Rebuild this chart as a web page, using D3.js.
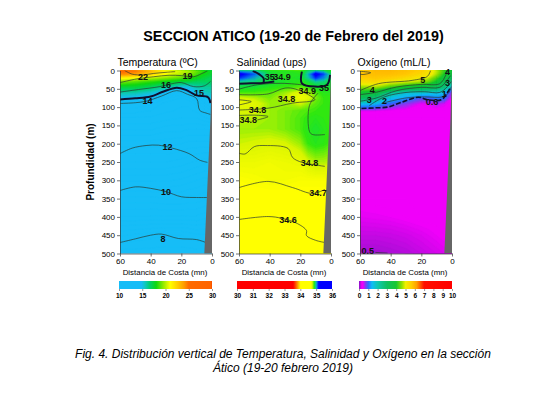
<!DOCTYPE html>
<html lang="es">
<head>
<meta charset="utf-8">
<title>Seccion Atico</title>
<script src="https://cdn.jsdelivr.net/npm/d3@7/dist/d3.min.js"></script>
<style>
body{margin:0;background:#fff;font-family:"Liberation Sans",Arial,sans-serif;}
svg{display:block;}
</style>
</head>
<body>
<div id="chart"></div>
<script>
// grid: columns are distance (mn), rows are depth (m)
var distances = [60,50,40,30,20,15,10,5,0]
var depths = [0,10,20,30,45,60,75,90,110,130,160,200,250,300,350,400,450,500]

var tempGrid = [
[25.5,25,23.5,21.5,20.5,20,19.2,18.4,17.8],
[24.5,24,22.5,21,20,19.6,18.8,18,17.5],
[21.5,21,20.2,19.6,19,18.6,18,17.5,17],
[19.5,19,18.5,18,17.5,17.4,17,17,17],
[17.5,17.5,17,16.2,15.2,15.2,16,16.2,16.2],
[16,16,15.5,14.6,14,14.2,15,15.6,15.8],
[15,14.8,14.5,13.8,13.5,13.7,14.3,15,15.2],
[14,14,13.8,13.4,13.3,13.3,13.6,14.2,14.8],
[13.6,13.6,13.5,13.3,13.2,13.2,13.3,13.6,14],
[13.2,13.2,13.2,13.1,13,13,13,13.2,13.4],
[12.8,12.8,12.8,12.6,12.6,12.5,12.5,12.5,12.5],
[12.1,12.1,12.1,12.1,12,11.9,11.9,11.9,11.9],
[11.5,11.5,11.5,11.5,11.4,11.3,11.2,11.1,11.1],
[10.8,10.8,10.8,10.8,10.7,10.6,10.5,10.4,10.4],
[9.9,9.9,9.9,10,10,9.9,9.9,9.8,9.8],
[9.2,9.2,9.2,9.2,9.2,9.2,9.2,9.1,9.1],
[8.3,8.2,8.1,8,8,8.1,8.2,8.2,8.2],
[7.6,7.6,7.6,7.6,7.6,7.6,7.6,7.6,7.6]
]

var salGrid = [
[34.98,34.98,34.9,34.88,34.86,34.95,34.98,34.95,34.9],
[35.18,35.08,34.92,34.88,34.88,35,35.18,35.1,34.95],
[35.12,35.02,34.92,34.88,34.9,34.98,35.12,35.05,34.95],
[34.98,34.96,34.92,34.9,34.88,34.92,34.98,34.96,34.92],
[34.92,34.91,34.88,34.86,34.84,34.86,34.9,34.92,34.9],
[34.85,34.85,34.84,34.8,34.74,34.78,34.84,34.88,34.88],
[34.76,34.78,34.82,34.77,34.7,34.74,34.82,34.86,34.86],
[34.7,34.74,34.8,34.8,34.76,34.8,34.84,34.86,34.86],
[34.76,34.76,34.8,34.82,34.84,34.85,34.86,34.86,34.86],
[34.78,34.78,34.8,34.82,34.85,34.87,34.88,34.87,34.86],
[34.8,34.8,34.8,34.82,34.85,34.88,34.9,34.88,34.86],
[34.77,34.76,34.75,34.76,34.8,34.86,34.88,34.87,34.85],
[34.71,34.71,34.7,34.71,34.72,34.76,34.79,34.79,34.78],
[34.67,34.68,34.69,34.69,34.68,34.68,34.68,34.68,34.68],
[34.65,34.65,34.65,34.65,34.65,34.65,34.65,34.65,34.65],
[34.6,34.6,34.61,34.6,34.6,34.62,34.62,34.62,34.62],
[34.58,34.58,34.58,34.58,34.58,34.58,34.58,34.58,34.58],
[34.56,34.56,34.56,34.56,34.56,34.56,34.56,34.56,34.56]
]

var oxyGrid = [
[5.6,5.9,5.9,5.8,5.6,5.3,4.8,4.2,3.8],
[5.8,5.8,5.8,5.7,5.4,5.2,4.7,4,3.5],
[5.6,5.7,5.6,5.4,5.1,4.8,4.3,3.7,3],
[5.3,5.4,5.1,4.9,4.7,4.4,3.9,3.2,2.5],
[4.6,4.7,4.2,3.8,3.5,3.4,3.1,2.6,1.5],
[3.9,3.6,2.3,1.7,1.7,1.6,1.6,1.4,0.6],
[3,2.6,1.5,1.2,0.85,0.9,1.1,1,0.4],
[1.5,1.4,0.95,0.7,0.45,0.5,0.6,0.5,0.36],
[0.45,0.45,0.4,0.38,0.36,0.36,0.36,0.36,0.35],
[0.36,0.36,0.36,0.36,0.36,0.36,0.36,0.36,0.35],
[0.35,0.35,0.35,0.35,0.35,0.35,0.35,0.35,0.35],
[0.35,0.35,0.35,0.35,0.35,0.35,0.35,0.35,0.35],
[0.35,0.35,0.35,0.35,0.35,0.35,0.35,0.35,0.35],
[0.35,0.35,0.35,0.35,0.35,0.35,0.35,0.35,0.35],
[0.34,0.34,0.34,0.34,0.34,0.34,0.34,0.34,0.34],
[0.28,0.29,0.3,0.32,0.34,0.34,0.34,0.34,0.34],
[0.2,0.2,0.21,0.23,0.26,0.28,0.3,0.32,0.32],
[0.12,0.12,0.14,0.16,0.2,0.22,0.24,0.26,0.26]
]

// contour lines as [distance, depth]
var temp22 = [[57,0],[52,10],[45,12],[38,8],[30,5],[24,3]]
var temp19 = [[60,33],[49,23],[38,17],[28,13],[20,14],[12,17],[7,9],[3,1]]
var temp16 = [[60,59],[48,52],[34,44],[26,36],[20,33],[12,44],[5,42],[1,30]]
var temp15 = [[60,79],[50,76],[40,71],[32,58],[23,47],[17,53],[10,68],[2.6,73],[1,89]]
var temp14 = [[60,90],[50,88],[43,84],[33,70],[23,55],[16,65],[10,77],[8,109],[4,116],[1,120]]
var temp12 = [[60,227],[52,212],[43,205],[35,204],[26,212],[15,227],[8,245],[3,251]]
var temp10 = [[60,328],[50,318],[40,322],[30,331],[20,345],[10,347],[3,347]]
var temp8 = [[60,470],[50,460],[40,450],[33,447],[22,459],[10,462],[4,470]]

var sal35a = [[60,36],[52,35],[44,34],[37,30]]
var sal35b = [[51,1],[47,10],[44,21],[44,34]]
var sal35c = [[19,3],[19,35],[10.5,44],[2.6,39],[0.6,12]]
var sal349 = [[60,51],[48,39],[32,35],[19,39]]
var sal348a = [[60,66],[41,64],[30,48],[23,51],[10.5,80],[25,89],[41,103],[60,108]]
var sal348b = [[60,80],[52,85],[60,94]]
var sal348c = [[60,123],[50,122],[41,126],[48,135]]
var sal348d = [[8.5,62],[14,95],[14,167],[12,175],[4,175]]
var sal348e = [[60,226],[56,228],[50,208],[43,205],[28,213],[25,238],[19,251],[10,258],[4,262]]
var sal347 = [[60,320],[41,303],[25,320],[12,336],[4,325]]
var sal346 = [[60,407],[41,399],[32,404],[22,418],[16,437],[16,451],[10,464],[4,470]]

var oxy5 = [[60,55],[48,36],[26,27],[16,16],[14,0]]
var oxy55 = [[60,2],[53,6],[58,11],[60,10]]
var oxy4 = [[60,66],[50,60],[36,45],[20,38],[8,36],[4,12],[3,0]]
var oxy3 = [[60,84],[50,76],[36,55],[20,46],[8,46],[3,26],[1,14]]
var oxy2 = [[54,96],[44,72],[30,60],[18,58],[8,60],[3,44],[0.5,30]]
var oxy1 = [[46,90],[30,75],[18,72],[6,72],[2,60],[0.5,44]]
var oxy06 = [[59,104],[50,102],[42,100],[33,87],[22,73],[16,80],[7,80],[3,60],[1,46]]
var oxy05 = [[50,497],[42,499]]

var tempLabels = [["22",45,16],["19",16,15],["16",30,38],["15",8.5,62],["14",42,84],["12",29,208],["10",30,331],["8",32,459]]
var salLabels = [["35",40,17],["34.9",32,18],["34.8",29,77],["34.8",48,107],["34.8",54,134],["34.9",15.5,55],["35",4.5,48],["34.8",14,251],["34.7",8.5,333],["34.6",28,407]]
var oxyLabels = [["5",19,25],["4",52,52],["3",54,79],["2",44,82],["0.6",13,85],["4",3,5],["3",3,34],["1",5,63],["0.5",55,492]]

var landDist = [0,1,5,0]
var landDepth = [0,130,500,500]

var tempBar = [10,15,20,25,30]
var salBar = [30,31,32,33,34,35,36]
var oxyBar = [0,1,2,3,4,5,6,7,8,9,10]

var tempColor = d3.scaleLinear()
    .domain([10,14.8,15.6,16.6,18,19.5,21,22.5,24,25,29.8,30])
    .range(["#16bdf7","#16bdf7","#10c8c0","#00cf70","#10d810","#90ea00","#ffff00","#ffd000","#ff9c00","#ff6a00","#ff6400","#f04000"])
var salColor = d3.scaleLinear()
    .domain([30,33.55,33.8,34,34.66,34.76,34.86,34.92,34.98,35.06,35.15,36])
    .range(["#ff0000","#ff0000","#ff8800","#ffff00","#ffff00","#d8f500","#30e810","#10e040","#10c8a0","#0878f0","#0000ff","#0000ff"])
var oxyColor = d3.scaleLinear()
    .domain([0,0.1,0.3,0.42,0.7,1,1.4,2,3,4,4.6,5,5.6,6.2,7,10])
    .range(["#9010d0","#a010d0","#f000fa","#f000fa","#8040f0","#2a70ff","#10bdf5","#10c8b0","#10c060","#18c830","#90e000","#f0f000","#ffd000","#ffa000","#ff1000","#ff0000"])

var w = 554, h = 393
var top0 = 70.5, bot0 = 253.5
var panelW = 92

var panels = [
  {title:"Temperatura (ºC)", x0:120, grid:tempGrid, color:tempColor, step:0.25, lo:7.5, hi:26,
   lines:[temp22,temp19,temp16,temp15,temp14,temp12,temp10,temp8], heavy:[temp15], labels:tempLabels,
   bar:tempBar, barX:[119,212]},
  {title:"Salinidad (ups)", x0:239, grid:salGrid, color:salColor, step:0.01, lo:34.5, hi:35.2,
   lines:[sal35a,sal35b,sal35c,sal349,sal348a,sal348b,sal348c,sal348d,sal348e,sal347,sal346], heavy:[sal35a,sal35b,sal35c], labels:salLabels,
   bar:salBar, barX:[237,332]},
  {title:"Oxígeno (mL/L)", x0:360, grid:oxyGrid, color:oxyColor, step:0.02, lo:0.1, hi:6,
   lines:[oxy55,oxy5,oxy4,oxy3,oxy2,oxy1,oxy05], heavy:[oxy06], dashed:[oxy06], labels:oxyLabels,
   bar:oxyBar, barX:[359,452]}
]

var svg = d3.select("#chart").append("svg").attr("width",w).attr("height",h)
var defs = svg.append("defs")

svg.append("text").text("SECCION ATICO (19-20 de Febrero del 2019)")
    .attr("x",293.5).attr("y",41).attr("text-anchor","middle")
    .attr("font-size","14.3px").attr("font-weight","bold")

svg.append("text").text("Profundidad (m)")
    .attr("transform","translate(94,162) rotate(-90)").attr("text-anchor","middle")
    .attr("font-size","10px").attr("font-weight","bold")

panels.forEach(function(p,k){
  var x = d3.scaleLinear().domain([60,0]).range([p.x0,p.x0+panelW])
  var y = d3.scaleLinear().domain([0,500]).range([top0,bot0])
  // grid index -> data units, the grids are not evenly spaced
  var ix = d3.scaleLinear().domain(d3.range(distances.length)).range(distances).clamp(true)
  var iy = d3.scaleLinear().domain(d3.range(depths.length)).range(depths).clamp(true)
  var path = d3.geoPath(d3.geoTransform({point:function(a,b){
    this.stream.point(x(ix(a-0.5)),y(iy(b-0.5)))
  }}))

  var g = svg.append("g")
  defs.append("clipPath").attr("id","clip"+k).append("rect")
      .attr("x",p.x0).attr("y",top0).attr("width",panelW).attr("height",bot0-top0)

  var field = g.append("g").attr("clip-path","url(#clip"+k+")")
  field.append("rect").attr("x",p.x0).attr("y",top0).attr("width",panelW).attr("height",bot0-top0)
      .attr("fill",p.color(p.lo))

  var contours = d3.contours().size([distances.length,depths.length]).smooth(true)
      .thresholds(d3.range(p.lo,p.hi,p.step))(d3.merge(p.grid))
  field.selectAll("path.band").data(contours).enter().append("path")
      .attr("class","band").attr("d",path)
      .attr("fill",function(d){return p.color(d.value)})
      .attr("stroke",function(d){return p.color(d.value)}).attr("stroke-width",0.3)

  var line = d3.line().x(function(d){return x(d[0])}).y(function(d){return y(d[1])}).curve(d3.curveCatmullRom)
  field.selectAll("path.iso").data(p.lines).enter().append("path")
      .attr("class","iso").attr("d",line).attr("fill","none")
      .attr("stroke",function(d){return p.heavy.indexOf(d)>=0 ? "#101030" : "#2a3a30"})
      .attr("stroke-width",function(d){return p.heavy.indexOf(d)>=0 ? 2 : 0.7})
  if(p.dashed){
    field.selectAll("path.dash").data(p.dashed).enter().append("path")
        .attr("class","dash").attr("d",line).attr("fill","none")
        .attr("stroke","#101030").attr("stroke-width",1.6).attr("stroke-dasharray","5,2")
  }

  // land at the coast
  var land = d3.line().x(function(d){return x(d)}).y(function(d,i){return y(landDepth[i])})
  field.append("path").attr("d",land(landDist)+"Z").attr("fill","#666666")

  g.selectAll("text.lab").data(p.labels).enter().append("text")
      .attr("class","lab").text(function(d){return d[0]})
      .attr("x",function(d){return x(d[1])}).attr("y",function(d){return y(d[2])})
      .attr("text-anchor","middle").attr("dy","0.35em")
      .attr("font-size","9px").attr("font-weight","bold").attr("fill","#111")

  var ax = g.append("g").attr("transform","translate(0,"+bot0+")")
      .call(d3.axisBottom(x).tickValues([60,40,20,0]).tickSize(3).tickSizeOuter(0).tickPadding(2))
  var ay = g.append("g").attr("transform","translate("+p.x0+",0)")
      .call(d3.axisLeft(y).tickValues(d3.range(0,501,50)).tickSize(3).tickSizeOuter(0).tickPadding(2))
  ;[ax,ay].forEach(function(a){
    a.selectAll("text").attr("font-family","'Liberation Sans',Arial,sans-serif").attr("font-size","8px")
    a.selectAll("path,line").attr("stroke","#333").attr("stroke-width",0.7)
  })

  g.append("text").text(p.title).attr("x",p.x0-2.5).attr("y",66).attr("font-size","10.5px")
  g.append("text").text("Distancia de Costa (mn)").attr("x",p.x0+panelW/2-1).attr("y",275)
      .attr("text-anchor","middle").attr("font-size","7.9px")

  // colour bar
  var bx = d3.scaleLinear().domain(d3.extent(p.bar)).range(p.barX)
  var grad = defs.append("linearGradient").attr("id","grad"+k)
  d3.range(0,1.001,0.01).forEach(function(t){
    grad.append("stop").attr("offset",t).attr("stop-color",p.color(bx.invert(p.barX[0]+t*(p.barX[1]-p.barX[0]))))
  })
  g.append("rect").attr("x",p.barX[0]).attr("y",281).attr("width",p.barX[1]-p.barX[0]).attr("height",8)
      .attr("fill","url(#grad"+k+")")
  var bar = g.append("g").attr("transform","translate(0,289)")
      .call(d3.axisBottom(bx).tickValues(p.bar).tickFormat(d3.format("d")).tickSize(2).tickPadding(2))
  bar.select("path").remove()
  bar.selectAll("line").attr("stroke","#333").attr("stroke-width",0.5)
  bar.selectAll("text").attr("font-family","'Liberation Sans',Arial,sans-serif")
      .attr("font-size","6.5px").attr("font-weight","bold")
})

var caption = ["Fig. 4. Distribución vertical de Temperatura, Salinidad y Oxígeno en la sección","Ático (19-20 febrero 2019)"]
svg.selectAll("text.cap").data(caption).enter().append("text")
    .attr("class","cap").text(function(d){return d})
    .attr("x",283).attr("y",function(d,i){return 358+i*14})
    .attr("text-anchor","middle").attr("font-size","12px").attr("font-style","italic")
</script>
</body>
</html>
